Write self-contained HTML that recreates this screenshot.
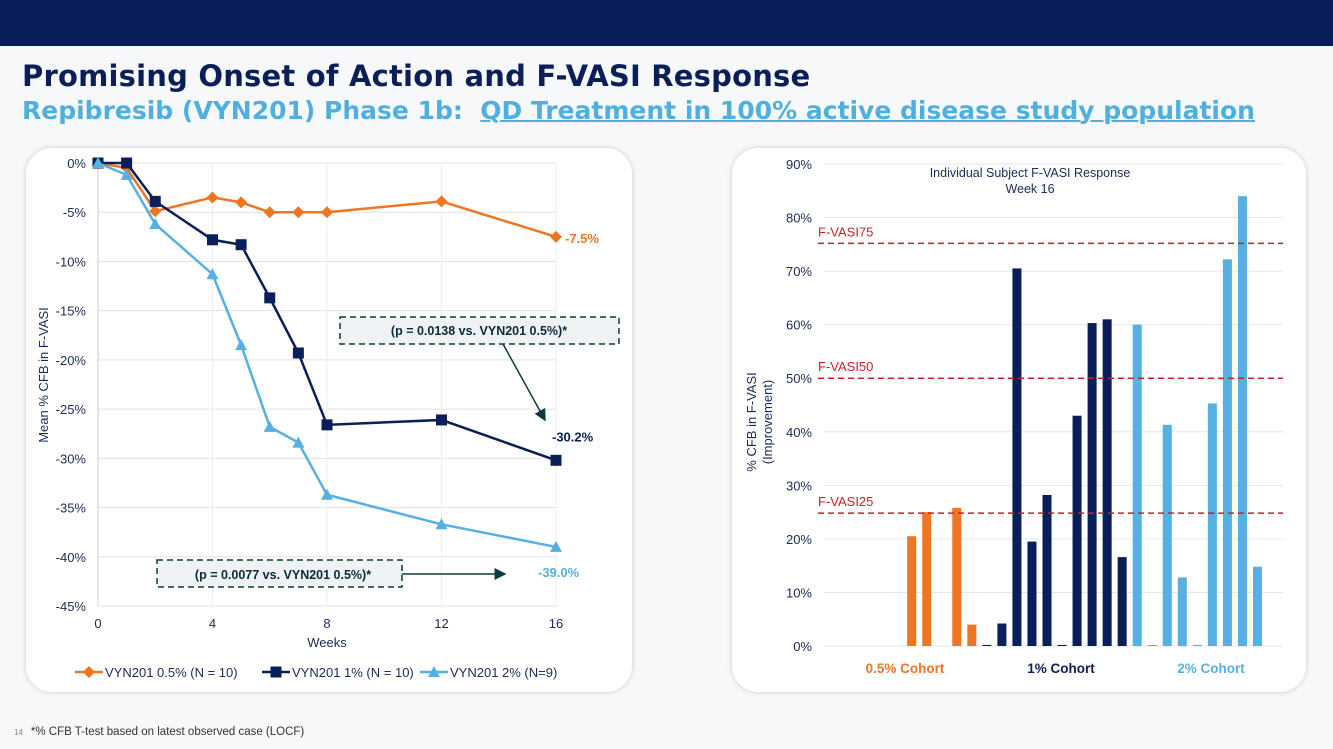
<!DOCTYPE html>
<html><head><meta charset="utf-8">
<style>
body{margin:0;width:1333px;height:749px;background:#f7f8fa;font-family:"Liberation Sans",sans-serif;overflow:hidden;position:relative}
.bar{position:absolute;left:0;top:0;width:1333px;height:46px;background:#0a1f5a}
.t1{position:absolute;left:22px;top:59px;font:bold 29px "DejaVu Sans",sans-serif;color:#0a1f5a;letter-spacing:0.2px;white-space:nowrap}
.t2{position:absolute;left:22px;top:96px;font:bold 25px "DejaVu Sans",sans-serif;color:#4fb0e0;white-space:nowrap}
.t2 u{text-decoration-thickness:2px}
.card{position:absolute;background:#fff;border-radius:26px;box-shadow:0 0 6px rgba(0,0,0,0.18)}
.foot{position:absolute;left:14px;top:726px;font-size:11.5px;color:#333}
.foot span{font-size:8px;color:#888;margin-right:8px}
</style></head><body>
<div class="bar"></div>
<div class="t1">Promising Onset of Action and F-VASI Response</div>
<div class="t2">Repibresib (VYN201) Phase 1b:&nbsp; <u>QD Treatment in 100% active disease study population</u></div>
<div class="card" style="left:26px;top:148px;width:606px;height:544px"></div>
<div class="card" style="left:732px;top:148px;width:574px;height:544px"></div>
<div class="foot"><span>14</span>*% CFB T-test based on latest observed case (LOCF)</div>
<svg id="svg" width="1333" height="749" style="position:absolute;left:0;top:0" font-family="Liberation Sans, sans-serif">
<defs>
<marker id="ah" markerWidth="8" markerHeight="8" refX="7" refY="4" orient="auto"><path d="M0,0 L8,4 L0,8 z" fill="#0d3b3b"/></marker>
</defs>
<g id="left"></g><g id="right"></g>
</svg>
<script>
const weeks=[0,1,2,4,5,6,7,8,12,16];
const s05=[0,-0.5,-4.9,-3.5,-4,-5,-5,-5,-3.9,-7.5];
const s1=[0,0,-3.9,-7.8,-8.3,-13.7,-19.3,-26.6,-26.1,-30.2];
const s2=[0,-1.2,-6.2,-11.3,-18.5,-26.8,-28.4,-33.7,-36.7,-39.0];
const yTicks=[0,-5,-10,-15,-20,-25,-30,-35,-40,-45];
const xTicks=[0,4,8,12,16];
const bars05=[0,0,0,0,0,20.5,25,0,25.8,4];
const bars1=[0.2,4.2,70.5,19.5,28.2,0.2,43,60.3,61,16.6];
const bars2=[60,0.2,41.3,12.8,0.2,45.3,72.2,84,14.8];
const rTicks=[0,10,20,30,40,50,60,70,80,90];
const thresholds=[75,50,25];
const NS="http://www.w3.org/2000/svg";
function mk(p,t,a,txt){const e=document.createElementNS(NS,t);for(const k in a)e.setAttribute(k,a[k]);if(txt!==undefined)e.textContent=txt;p.appendChild(e);return e;}
// left chart
const L=document.getElementById('left');
const lx=w=>98+w*(556-98)/16, ly=v=>163+(-v)*(606-163)/45;
yTicks.forEach(t=>{const g=mk(L,'line',{x1:98,x2:556,y1:ly(t),y2:ly(t),stroke:'#e3e3e3'});
const tx=mk(L,'text',{x:86,y:ly(t)+5,'text-anchor':'end','font-size':13,fill:'#1a2a5a'},t+'%');});
xTicks.forEach(t=>{mk(L,'line',{x1:lx(t),x2:lx(t),y1:163,y2:606,stroke:'#eee'});const tx=mk(L,'text',{x:lx(t),y:628,'text-anchor':'middle','font-size':13,fill:'#1a2a5a'},t);});
mk(L,'line',{x1:98,x2:98,y1:163,y2:606,stroke:'#ccc'});
let t=mk(L,'text',{x:327,y:647,'text-anchor':'middle','font-size':13,fill:'#1a2a5a'},'Weeks');
t=mk(L,'text',{x:48,y:375,'text-anchor':'middle','font-size':13,fill:'#1a2a5a',transform:'rotate(-90 48 375)'},'Mean % CFB in F-VASI');
function marker(p,type,x,y,c){if(type==='d')return mk(p,'path',{d:`M${x},${y-6}L${x+6},${y}L${x},${y+6}L${x-6},${y}z`,fill:c});
if(type==='s')return mk(p,'rect',{x:x-5.5,y:y-5.5,width:11,height:11,fill:c});return mk(p,'path',{d:`M${x},${y-6}L${x+6},${y+5}L${x-6},${y+5}z`,fill:c});}
[[s05,'#ee7623','d','series-0.5pct'],[s1,'#0a1f5a','s','series-1pct'],[s2,'#56b0e2','t','series-2pct']].forEach(([s,c,m,n])=>{
const pl=mk(L,'polyline',{points:s.map((v,i)=>lx(weeks[i])+','+ly(v)).join(' '),fill:'none',stroke:c,'stroke-width':2.5});
s.forEach((v,i)=>{const e=marker(L,m,lx(weeks[i]),ly(v),c);});});
t=mk(L,'text',{x:565,y:ly(s05[9])+6,'font-size':13,'font-weight':'bold',fill:'#ee7623'},s05[9].toFixed(1)+'%');
t=mk(L,'text',{x:552,y:ly(s1[9])-19,'font-size':13,'font-weight':'bold',fill:'#0a1f5a'},s1[9].toFixed(1)+'%');
t=mk(L,'text',{x:538,y:ly(s2[9])+30,'font-size':13,'font-weight':'bold',fill:'#56b0e2'},s2[9].toFixed(1)+'%');
// annotations
let r=mk(L,'rect',{x:340,y:317,width:279,height:27,fill:'#eef2f5',stroke:'#0d3b3b','stroke-dasharray':'6,4','stroke-width':1.5});
mk(L,'text',{x:479,y:335,'text-anchor':'middle','font-size':12.5,'font-weight':'bold',fill:'#0d2a3a'},'(p = 0.0138 vs. VYN201 0.5%)*');
mk(L,'line',{x1:503,y1:344,x2:545,y2:420,stroke:'#0d3b3b','stroke-width':1.5,'marker-end':'url(#ah)'});
r=mk(L,'rect',{x:157,y:560,width:245,height:27,fill:'#eef2f5',stroke:'#0d3b3b','stroke-dasharray':'6,4','stroke-width':1.5});
mk(L,'text',{x:283,y:579,'text-anchor':'middle','font-size':12.5,'font-weight':'bold',fill:'#0d2a3a'},'(p = 0.0077 vs. VYN201 0.5%)*');
mk(L,'line',{x1:402,y1:574,x2:505,y2:574,stroke:'#0d3b3b','stroke-width':1.5,'marker-end':'url(#ah)'});
// legend
[[75,'#ee7623','d','VYN201 0.5% (N = 10)'],[262,'#0a1f5a','s','VYN201 1% (N = 10)'],[420,'#56b0e2','t','VYN201 2% (N=9)']].forEach(([x,c,m,l])=>{
const g=mk(L,'g',{});
mk(g,'line',{x1:x,x2:x+28,y1:672,y2:672,stroke:c,'stroke-width':2.5});marker(g,m,x+14,672,c);
mk(g,'text',{x:x+30,y:677,'font-size':13,fill:'#1a2a5a'},l);});
// right chart
const R=document.getElementById('right');
const allBars=[...bars05.map(v=>[v,'#ee7623']),...bars1.map(v=>[v,'#0a1f5a']),...bars2.map(v=>[v,'#56b0e2'])];
const x0=829,x1=1265,slot=(x1-x0)/allBars.length;
const ry=v=>646-v*(646-164)/90;
rTicks.forEach(t=>{mk(R,'line',{x1:824,x2:1283,y1:ry(t),y2:ry(t),stroke:'#e6e6e6'});
const tx=mk(R,'text',{x:812,y:ry(t)+5,'text-anchor':'end','font-size':13,fill:'#1a2a5a'},t+'%');});
t=mk(R,'text',{x:1030,y:177,'text-anchor':'middle','font-size':12.5,fill:'#1a2a5a'},'Individual Subject F-VASI Response');
mk(R,'text',{x:1030,y:193,'text-anchor':'middle','font-size':12.5,fill:'#1a2a5a'},'Week 16');
t=mk(R,'text',{transform:'translate(756 422) rotate(-90)','text-anchor':'middle','font-size':13,fill:'#1a2a5a'},'% CFB in F-VASI');
mk(R,'text',{transform:'translate(772 422) rotate(-90)','text-anchor':'middle','font-size':13,fill:'#1a2a5a'},'(Improvement)');
allBars.forEach(([v,c],i)=>{const b=mk(R,'rect',{x:x0+slot*i+slot*0.2,y:ry(v),width:slot*0.6,height:646-ry(v),fill:c});});
thresholds.forEach(th=>{const yy=ry(th)+(th===75?-1:th===25?+1:0);const l=mk(R,'line',{x1:818,x2:1283,y1:yy,y2:yy,stroke:'#c8202a','stroke-width':1.5,'stroke-dasharray':'6,4'});
const tx=mk(R,'text',{x:818,y:yy-7,'font-size':13,fill:'#c8202a'},'F-VASI'+th);});
[[905,'#ee7623','0.5% Cohort'],[1061,'#0a1f5a','1% Cohort'],[1211,'#56b0e2','2% Cohort']].forEach(([x,c,l])=>{const tx=mk(R,'text',{x:x,y:673,'text-anchor':'middle','font-size':13.5,'font-weight':'bold',fill:c},l);});
</script>
</body></html>
